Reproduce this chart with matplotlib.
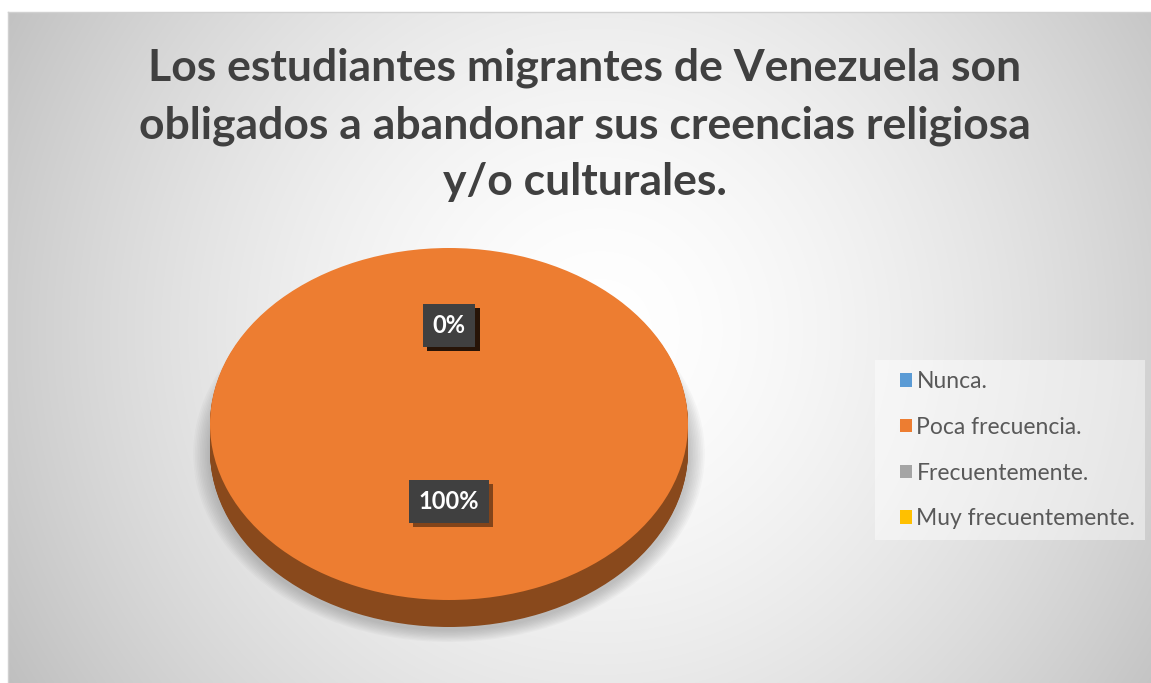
import numpy as np
import matplotlib
matplotlib.use("Agg")
import matplotlib.pyplot as plt
from matplotlib import patheffects as pe
from matplotlib.colors import to_rgb
from matplotlib.patches import Rectangle

# ---------------- data ----------------
title = "Los estudiantes migrantes de Venezuela son\nobligados a abandonar sus creencias religiosa\ny/o culturales."
categories = ["Nunca.", "Poca frecuencia.", "Frecuentemente.", "Muy frecuentemente."]
values = [0, 100, 0, 0]
colors = ["#5B9BD5", "#ED7D31", "#A5A5A5", "#FFC000"]

W, H = 1151, 683
fig = plt.figure(figsize=(W / 100, H / 100), dpi=100)
fig.patch.set_facecolor("white")

# ---------------- background (chart area with radial gradient) ----------------
bg = fig.add_axes([0, 0, 1, 1])
bg.set_xlim(0, W)
bg.set_ylim(H, 0)
bg.axis("off")
x0, y0, x1, y1 = 8, 12, W, H
xx, yy = np.meshgrid(np.arange(x0, x1), np.arange(y0, y1))
d = np.hypot(xx - 600, (yy - 330) * 1.0)
v = 1 - 0.24 * np.clip(d / 672, 0, 1.2) ** 1.6
img = np.dstack([v, v, v])
bg.imshow(img, extent=(x0, x1, y1, y0), interpolation="bilinear", zorder=0)
bg.plot([x0, x1], [y0, y0], color="#d0d0d0", lw=1, zorder=1)
bg.plot([x0, x0], [y0, y1], color="#d0d0d0", lw=1, zorder=1)
bg.add_patch(Rectangle((875, 360), 270, 180, facecolor="white", alpha=0.45,
                       edgecolor="none", zorder=1))

bg.text(585, 125, title, ha="center", va="center", fontsize=32,
        fontweight="bold", family="Lato", color="#404040", linespacing=1.5)

# ---------------- 3D-like pie ----------------
cx, cy, rx, ry, depth = 449, 424, 239, 176, 27
dz = depth / ry
left = (cx - rx) / W
width = 2 * rx / W
top_px = cy - ry
bot_px = cy + ry + depth
pax = fig.add_axes([left, 1 - bot_px / H, width, (bot_px - top_px) / H])
pax.patch.set_alpha(0)


def darker(c, f):
    r, g, b = to_rgb(c)
    return (r * f, g * f, b * f)

# soft shadow
for k in range(10):
    pax.pie(values, colors=["#6f6f6f"] * 4, startangle=90, counterclock=False,
            radius=1.0 + 0.007 * (k + 1), center=(0, -dz * 1.1),
            wedgeprops=dict(linewidth=0, alpha=0.045))

# side layers
nlay = 28
for k in range(nlay, 0, -1):
    pax.pie(values, colors=[darker(c, 0.58) for c in colors], startangle=90,
            counterclock=False, center=(0, -dz * k / nlay),
            wedgeprops=dict(linewidth=0))

# top face
wedges, texts, autotexts = pax.pie(
    values, colors=colors, startangle=90, counterclock=False,
    autopct=lambda p: f"{p:.0f}%", pctdistance=0.5,
    wedgeprops=dict(linewidth=0),
    textprops=dict(color="white", fontsize=17, fontweight="bold", family="Lato"))
for t in autotexts:
    x, y = t.get_position()
    t.set_position((x, y + 0.06))
    t.set_bbox(dict(boxstyle="square,pad=0.42", fc="#404040", ec="none"))
    t.get_bbox_patch().set_path_effects(
        [pe.SimplePatchShadow(offset=(3, -3), shadow_rgbFace="black", alpha=0.45),
         pe.Normal()])

pax.set_aspect("auto")
pax.set_xlim(-1, 1)
pax.set_ylim(-1 - dz, 1)
pax.axis("off")

# ---------------- legend ----------------
leg = fig.legend(wedges, categories, loc="upper left",
                 bbox_to_anchor=(900 / W, 1 - 371 / H),
                 frameon=False,
                 prop=dict(family="Lato", size=16.5), labelcolor="#595959",
                 handlelength=0.52, handleheight=0.52, handletextpad=0.2,
                 labelspacing=1.08, borderpad=0, borderaxespad=0)

fig.savefig("out.png", dpi=100, facecolor="white")
